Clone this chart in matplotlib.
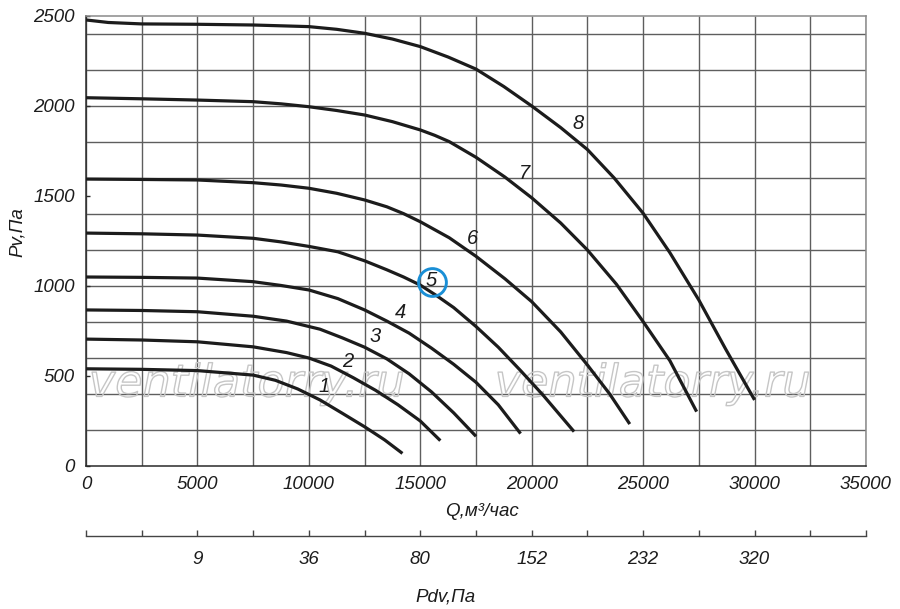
import numpy as np
import matplotlib
matplotlib.use("Agg")
import matplotlib.pyplot as plt
import matplotlib.patheffects as pe
from matplotlib import font_manager

# ---------------- data ----------------
q1 = [0, 2500, 5000, 7500, 8500, 9500, 10500, 11500, 12500, 13400, 14200]
p1 = [540, 537, 530, 505, 476, 428, 367, 293, 218, 145, 70]

q2 = [0, 2500, 5000, 7500, 9000, 10000, 11000, 12000, 13000, 14000, 15000, 15900]
p2 = [705, 700, 690, 662, 630, 600, 555, 490, 420, 340, 250, 141]

q3 = [0, 2500, 5000, 7500, 9000, 10500, 11500, 12500, 13500, 14500, 15500, 16500, 17500]
p3 = [867, 864, 857, 832, 805, 760, 712, 660, 595, 512, 412, 295, 165]

q4 = [0, 2500, 5000, 7500, 8750, 10000, 11300, 12500, 13500, 14500, 15500, 16500, 17500, 18500, 19500]
p4 = [1050, 1048, 1044, 1024, 1003, 978, 930, 867, 805, 738, 655, 565, 465, 340, 180]

q5 = [0, 2500, 5000, 7500, 8750, 10000, 11300, 12500, 13500, 14250, 15000, 15750, 16500, 17500,
      18500, 19500, 20500, 21900]
p5 = [1294, 1290, 1283, 1265, 1245, 1220, 1190, 1140, 1090, 1050, 1005, 945, 880, 775,
      660, 530, 395, 191]

q6 = [0, 2500, 5000, 7500, 8750, 10000, 11250, 12500, 13500, 14250, 15000, 16300, 17500, 18800,
      20000, 21300, 22500, 23500, 24400]
p6 = [1594, 1592, 1589, 1574, 1561, 1543, 1515, 1478, 1440, 1402, 1357, 1268, 1165, 1040,
      913, 745, 561, 400, 233]

q7 = [0, 2500, 5000, 7500, 8750, 10000, 11250, 12500, 13750, 15000, 15650, 16300, 17500, 18800,
      20000, 21300, 22500, 23800, 25000, 26200, 27400]
p7 = [2046, 2040, 2033, 2024, 2012, 1996, 1975, 1950, 1913, 1867, 1837, 1802, 1715, 1605,
      1490, 1350, 1200, 1010, 802, 585, 302]

q8 = [0, 1000, 2500, 5000, 7500, 10000, 11250, 12500, 13750, 15000, 16250, 17500, 18750, 20000,
      21300, 22500, 23700, 25000, 26200, 27500, 28700, 30000]
p8 = [2478, 2464, 2456, 2454, 2450, 2441, 2426, 2404, 2372, 2330, 2272, 2205, 2108, 2000,
      1880, 1758, 1600, 1404, 1185, 922, 650, 367]

curve_names = ["1", "2", "3", "4", "5", "6", "7", "8"]
label_q = [10680, 11730, 12970, 14090, 15510, 17350, 19700, 22060]
label_p = [441, 580, 718, 852, 1033, 1265, 1626, 1904]
highlight = "5"

q_ticks = [0, 5000, 10000, 15000, 20000, 25000, 30000, 35000]
p_ticks = [0, 500, 1000, 1500, 2000, 2500]
q_grid = np.arange(0, 35001, 2500)
p_grid = np.arange(200, 2401, 200)

pdv_pos = [5000, 10000, 15000, 20000, 25000, 30000]
pdv_labels = ["9", "36", "80", "152", "232", "320"]

watermark = "ventilatorry.ru"
watermark_q = [7225, 25440]
watermark_p = [456, 456]

# ---------------- fonts ----------------
names = {f.name for f in font_manager.fontManager.ttflist}
base = "Liberation Sans" if "Liberation Sans" in names else "DejaVu Sans"
narrow = "Liberation Sans Narrow" if "Liberation Sans Narrow" in names else base
plt.rcParams["font.family"] = [base, "DejaVu Sans"]
plt.rcParams["font.style"] = "italic"

INK = "#1c1c1c"
GRID = "#5e5e5e"

fig = plt.figure(figsize=(9, 6.09), dpi=100)
ax = fig.add_axes([86 / 900, 1 - 466 / 609, 780 / 900, 450 / 609])
ax.set_xlim(0, 35000)
ax.set_ylim(0, 2500)

# grid
ax.vlines(q_grid, 0, 2500, colors=GRID, linewidth=1.0, zorder=1)
ax.hlines(p_grid, 0, 35000, colors=GRID, linewidth=1.0, zorder=1)

# watermark (outlined text)
for wq, wp in zip(watermark_q, watermark_p):
    ax.text(wq, wp, watermark, ha="center", va="center", fontsize=32,
            family="DejaVu Sans", style="italic", color=(1, 1, 1, 0), zorder=2,
            path_effects=[pe.Stroke(linewidth=1.0, foreground="#c6c6c6")])

# curves
curves = [(q1, p1), (q2, p2), (q3, p3), (q4, p4), (q5, p5), (q6, p6), (q7, p7), (q8, p8)]
for q, p in curves:
    ax.plot(q, p, color=INK, linewidth=2.3, solid_capstyle="butt",
            solid_joinstyle="round", zorder=3)

for name, lq, lp in zip(curve_names, label_q, label_p):
    ax.text(lq, lp, name, ha="center", va="center", fontsize=14.5,
            family=[narrow, "DejaVu Sans"], style="italic", color=INK, zorder=4)
    if name == highlight:
        ax.plot([lq], [lp - 12], marker="o", ms=20, mfc="none",
                mec="#1a8fd6", mew=2.1, zorder=5)

# spines
for s in ["left", "bottom"]:
    ax.spines[s].set_color("#2a2a2a")
    ax.spines[s].set_linewidth(1.1)
for s in ["top", "right"]:
    ax.spines[s].set_color("#8a8a8a")
    ax.spines[s].set_linewidth(1.1)

ax.set_xticks(q_ticks)
ax.set_xticklabels([str(v) for v in q_ticks])
ax.set_yticks(p_ticks)
ax.set_yticklabels([str(v) for v in p_ticks])
ax.tick_params(axis="x", direction="in", length=0, pad=7, labelsize=13.5,
               labelcolor=INK)
ax.tick_params(axis="y", direction="in", length=3, width=1, color="#2a2a2a",
               pad=8, labelsize=13.5, labelcolor=INK)

ax.set_xlabel("Q,м³/час", fontsize=13.5, color=INK)
ax.xaxis.set_label_coords((482 - 86) / 780, (466 - 503) / 450)
ax.set_ylabel("Pv,Па", fontsize=13.5, color=INK)
ax.yaxis.set_label_coords((26 - 86) / 780, (466 - 232) / 450)

# secondary dynamic-pressure scale
ax2 = fig.add_axes([86 / 900, 1 - 536 / 609, 780 / 900, 20 / 609])
ax2.set_xlim(0, 35000)
ax2.patch.set_visible(False)
for s in ["left", "right", "top"]:
    ax2.spines[s].set_visible(False)
ax2.spines["bottom"].set_color("#444444")
ax2.spines["bottom"].set_linewidth(1.0)
ax2.set_yticks([])
ax2.set_xticks(q_grid)
ax2.set_xticklabels([pdv_labels[pdv_pos.index(v)] if v in pdv_pos else "" for v in q_grid])
ax2.tick_params(axis="x", direction="in", length=4, width=1, color="#444444",
                pad=11, labelsize=13.5, labelcolor=INK)
ax2.set_xlabel("Pdv,Па", fontsize=13.5, color=INK)
ax2.xaxis.set_label_coords((445 - 86) / 780, (536 - 588) / 20)

fig.savefig("out.png", dpi=100)
